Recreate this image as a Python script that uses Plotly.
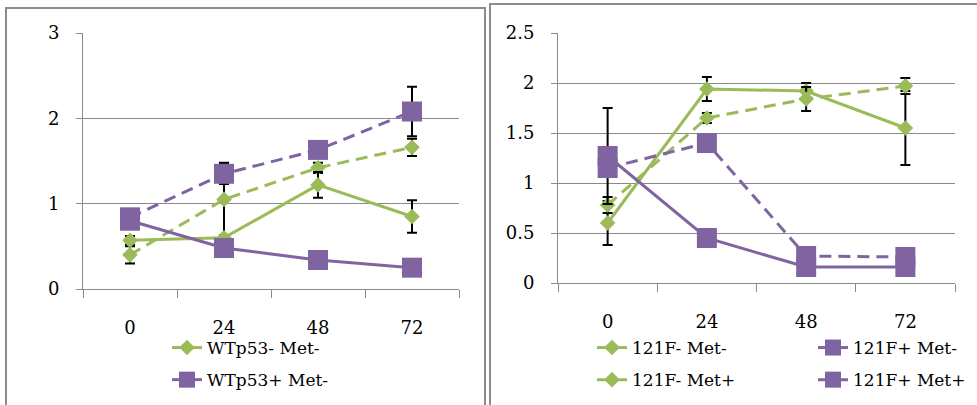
import plotly.graph_objects as go

hours = ["0", "24", "48", "72"]

# Left panel (WTp53)
wt_minus_met_minus = [0.57, 0.60, 1.22, 0.85]
wt_minus_met_minus_err = [0.05, 0.03, 0.15, 0.19]
wt_plus_met_minus = [0.80, 0.48, 0.34, 0.25]
wt_plus_met_minus_err = [0.02, 0.02, 0.02, 0.02]
wt_minus_met_plus = [0.40, 1.05, 1.42, 1.66]
wt_minus_met_plus_err = [0.10, 0.43, 0.06, 0.10]
wt_plus_met_plus = [0.84, 1.35, 1.63, 2.08]
wt_plus_met_plus_err = [0.02, 0.12, 0.03, 0.29]

# Right panel (121F)
f_minus_met_minus = [0.60, 1.94, 1.92, 1.55]
f_minus_met_minus_err = [0.22, 0.12, 0.08, 0.37]
f_plus_met_minus = [1.27, 0.45, 0.16, 0.16]
f_plus_met_minus_err = [0.48, 0.02, 0.02, 0.02]
f_minus_met_plus = [0.78, 1.65, 1.84, 1.97]
f_minus_met_plus_err = [0.08, 0.05, 0.12, 0.08]
f_plus_met_plus = [1.15, 1.40, 0.27, 0.26]
f_plus_met_plus_err = [0.02, 0.02, 0.02, 0.02]

GREEN = "#9BBB59"
PURPLE = "#8064A2"
GRID = "#8a8a8a"
FONT = "DejaVu Serif"
W, H = 977, 405


def px_x(p):
    return p / W


def px_y(p):
    return 1 - p / H


def trace(x, y, err, name, color, symbol, dashed, xa, ya, legend, showlegend, group):
    return go.Scatter(
        x=x, y=y, name=name, xaxis=xa, yaxis=ya, mode="lines+markers",
        line=dict(color=color, width=3, dash="12px,7px" if dashed else "solid"),
        marker=dict(symbol=symbol, size=20 if symbol == "square" else 12,
                    color=color, line=dict(width=0)),
        error_y=dict(type="data", array=err, visible=True, color="black",
                     thickness=2, width=5),
        legend=legend, showlegend=showlegend, legendgroup=group,
    )


fig = go.Figure()
fig.add_trace(trace(hours, wt_minus_met_plus, wt_minus_met_plus_err, "WTp53- Met+", GREEN, "diamond", True, "x", "y", "legend", False, "c"))
fig.add_trace(trace(hours, wt_plus_met_plus, wt_plus_met_plus_err, "WTp53+ Met+", PURPLE, "square", True, "x", "y", "legend", False, "d"))
fig.add_trace(trace(hours, wt_minus_met_minus, wt_minus_met_minus_err, "WTp53- Met-", GREEN, "diamond", False, "x", "y", "legend", True, "a"))
fig.add_trace(trace(hours, wt_plus_met_minus, wt_plus_met_minus_err, "WTp53+ Met-", PURPLE, "square", False, "x", "y", "legend", True, "b"))

fig.add_trace(trace(hours, f_minus_met_minus, f_minus_met_minus_err, "121F- Met-", GREEN, "diamond", False, "x2", "y2", "legend2", True, "e"))
fig.add_trace(trace(hours, f_minus_met_plus, f_minus_met_plus_err, "121F- Met+", GREEN, "diamond", True, "x2", "y2", "legend2", True, "f"))
fig.add_trace(trace(hours, f_plus_met_minus, f_plus_met_minus_err, "121F+ Met-", PURPLE, "square", False, "x2", "y2", "legend3", True, "g"))
fig.add_trace(trace(hours, f_plus_met_plus, f_plus_met_plus_err, "121F+ Met+", PURPLE, "square", True, "x2", "y2", "legend3", True, "h"))

xcommon = dict(type="category", categoryorder="array", categoryarray=hours,
               range=[-0.5, 3.5], showgrid=False, showline=True, linecolor=GRID,
               linewidth=1, ticks="outside", ticklen=8, tickcolor=GRID,
               tickson="boundaries", ticklabelstandoff=22, zeroline=False,
               automargin=False,
               tickfont=dict(family=FONT, size=18, color="black"))
ycommon = dict(showgrid=True, gridcolor=GRID, gridwidth=1, showline=True,
               linecolor=GRID, linewidth=1, ticks="outside", ticklen=6,
               tickcolor=GRID, zeroline=False, ticklabelstandoff=13,
               automargin=False,
               tickfont=dict(family=FONT, size=18, color="black"))

legcommon = dict(xanchor="left", yanchor="top", orientation="v",
                 tracegroupgap=7, bgcolor="rgba(0,0,0,0)", traceorder="grouped",
                 font=dict(family=FONT, size=17, color="black"))

fig.update_layout(
    width=W, height=H, margin=dict(l=0, r=0, t=0, b=0),
    paper_bgcolor="white", plot_bgcolor="white",
    font=dict(family=FONT, size=18, color="black"),
    xaxis=dict(xcommon, domain=[px_x(83), px_x(459)], anchor="y"),
    yaxis=dict(ycommon, domain=[px_y(289), px_y(33)], anchor="x",
               range=[0, 3], tickvals=[0, 1, 2, 3]),
    xaxis2=dict(xcommon, domain=[px_x(558), px_x(955)], anchor="y2"),
    yaxis2=dict(ycommon, domain=[px_y(283), px_y(33)], anchor="x2",
                range=[0, 2.5], tickvals=[0, 0.5, 1, 1.5, 2, 2.5],
                ticktext=["0", "0.5", "1", "1.5", "2", "2.5"]),
    legend=dict(legcommon, x=px_x(167), y=px_y(330)),
    legend2=dict(legcommon, x=px_x(592), y=px_y(330)),
    legend3=dict(legcommon, x=px_x(813), y=px_y(330)),
    shapes=[
        dict(type="rect", xref="paper", yref="paper", x0=px_x(6), x1=px_x(485),
             y0=px_y(420), y1=px_y(8), line=dict(color="#8c8c8c", width=2)),
        dict(type="rect", xref="paper", yref="paper", x0=px_x(490), x1=px_x(990),
             y0=px_y(420), y1=px_y(4), line=dict(color="#8c8c8c", width=2)),
    ],
)

fig.write_html(
    "out.html",
    config={"displayModeBar": False},
    post_script="document.body.style.margin='0';document.body.style.overflow='hidden';",
)
